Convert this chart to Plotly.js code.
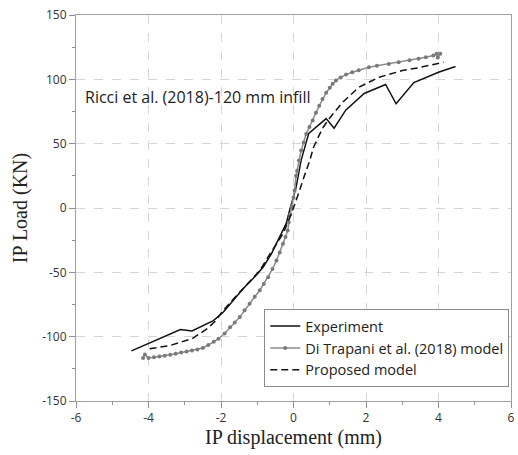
<!DOCTYPE html>
<html>
<head>
<meta charset="utf-8">
<script src="https://cdn.plot.ly/plotly-3.0.1.min.js"></script>
<style>html,body{margin:0;padding:0;background:#fff;}#chart{width:518px;height:455px;}</style>
</head>
<body>
<div id="chart"></div>
<script>
// Experiment
const expX = [-4.47, -3.12, -2.8, -2.21, -1.94, -1.66, -1.39, -1.12, -0.84, -0.61, -0.38, -0.2, -0.11, 0.07, 0.21, 0.42, 0.9, 1.12, 1.44, 1.95, 2.54, 2.83, 3.32, 4.0, 4.47];
const expY = [-111, -94.5, -95.5, -87.5, -81, -72, -62.8, -55, -46, -35.6, -22.7, -12, -2, 16, 37, 58, 69.5, 62, 76, 89, 96, 81, 97.5, 105.5, 110];

// Di Trapani et al. (2018) model
const dtX = [-4.15, -4.1, -4.0, -3.85, -3.7, -3.55, -3.4, -3.25, -3.1, -2.95, -2.8, -2.65, -2.5, -2.35, -2.2, -2.07, -1.9, -1.75, -1.62, -1.48, -1.35, -1.21, -1.07, -0.93, -0.82, -0.7, -0.58, -0.47, -0.38, -0.29, -0.22, -0.16, -0.13, -0.09, -0.05, 0.0, 0.03, 0.07, 0.1, 0.15, 0.21, 0.28, 0.35, 0.44, 0.53, 0.62, 0.71, 0.8, 0.9, 1.0, 1.08, 1.17, 1.3, 1.45, 1.62, 1.8, 2.08, 2.3, 2.63, 2.9, 3.2, 3.45, 3.65, 3.86, 3.95, 3.98, 4.05];
const dtY = [-116.5, -113.8, -116.5, -116, -115.5, -114.8, -114, -113.2, -112.4, -111.6, -110.8, -110, -108.8, -106.5, -104, -101.6, -97.5, -92.6, -89, -84.8, -79.5, -74.4, -69, -64, -59, -53.8, -47.5, -40.8, -34.5, -27.8, -22.5, -17.5, -11, -5, 1, 8, 13.6, 25, 29, 37, 44.7, 51, 57.6, 63, 68, 74, 79.5, 84.8, 89.5, 93.5, 96.5, 99, 101.5, 103.7, 105.5, 107, 109.4, 110.5, 112, 113.3, 114.8, 116, 117.2, 118.5, 119.8, 117, 119.8];

// Proposed model
const pmX = [-3.97, -3.4, -2.8, -2.39, -2.16, -1.95, -1.7, -1.43, -1.18, -0.93, -0.7, -0.5, -0.29, -0.06, 0.0, 0.16, 0.3, 0.45, 0.55, 0.8, 1.0, 1.35, 1.81, 2.36, 3.0, 3.45, 4.14];
const pmY = [-109.4, -106.8, -101.6, -94, -88, -80, -72, -64, -56, -48.6, -38, -29, -20, -4.5, 0, 13, 25, 37, 47, 62, 70, 82, 94, 101.6, 106.8, 109, 113.3];

const xTicks = [-6, -4, -2, 0, 2, 4, 6];
const yTicks = [-150, -100, -50, 0, 50, 100, 150];

const traces = [
  {x: expX, y: expY, name: 'Experiment', mode: 'lines', type: 'scatter',
   line: {color: '#111111', width: 1.5}},
  {x: dtX, y: dtY, name: 'Di Trapani et al. (2018) model', mode: 'lines+markers', type: 'scatter',
   line: {color: '#8c8c8c', width: 1.5}, marker: {symbol: 'circle', size: 4, color: '#7a7a7a'}},
  {x: pmX, y: pmY, name: 'Proposed model', mode: 'lines', type: 'scatter',
   line: {color: '#111111', width: 1.5, dash: '7px,4px'}}
];

const tickFont = {family: 'Open Sans, Noto Sans, sans-serif', size: 12, color: '#333333'};
const titleFont = {family: 'Liberation Serif, Times New Roman, serif', size: 20, color: '#222'};

const layout = {
  width: 518, height: 455,
  margin: {l: 76, r: 7, t: 15, b: 54, autoexpand: false},
  paper_bgcolor: '#fff', plot_bgcolor: '#fff',
  showlegend: true,
  xaxis: {
    range: [-6, 6], tickvals: xTicks, ticktext: xTicks.map(String),
    showgrid: true, gridcolor: '#d6d6d6', griddash: 'dash', gridwidth: 1,
    zeroline: false, showline: true, mirror: true, linecolor: '#a0a0a0', linewidth: 1,
    ticks: 'outside', ticklen: 6, tickcolor: '#909090',
    minor: {dtick: 1, ticks: 'outside', ticklen: 3, tickcolor: '#909090', showgrid: false},
    tickfont: tickFont,
    title: {text: 'IP displacement (mm)', font: titleFont, standoff: 0}
  },
  yaxis: {
    range: [-150, 150], tickvals: yTicks, ticktext: yTicks.map(String),
    showgrid: true, gridcolor: '#d6d6d6', griddash: 'dash', gridwidth: 1,
    zeroline: false, showline: true, mirror: true, linecolor: '#a0a0a0', linewidth: 1,
    ticks: 'outside', ticklen: 6, tickcolor: '#909090',
    minor: {dtick: 25, ticks: 'outside', ticklen: 3, tickcolor: '#909090', showgrid: false},
    tickfont: tickFont,
    title: {text: 'IP Load (KN)', font: titleFont, standoff: 9}
  },
  legend: {
    x: 0.996, y: 0.238, xanchor: 'right', yanchor: 'top',
    bgcolor: '#ffffff', bordercolor: '#8a8a8a', borderwidth: 1,
    font: {family: 'Open Sans, Noto Sans, sans-serif', size: 14.5, color: '#222'}
  },
  annotations: [{
    x: -5.82, y: 86, xref: 'x', yref: 'y', xanchor: 'left', yanchor: 'middle',
    text: 'Ricci et al. (2018)-120 mm infill', showarrow: false,
    font: {family: 'Open Sans, Noto Sans, sans-serif', size: 16, color: '#222'}
  }]
};

Plotly.newPlot('chart', traces, layout, {displayModeBar: false, staticPlot: true});
</script>
</body>
</html>
